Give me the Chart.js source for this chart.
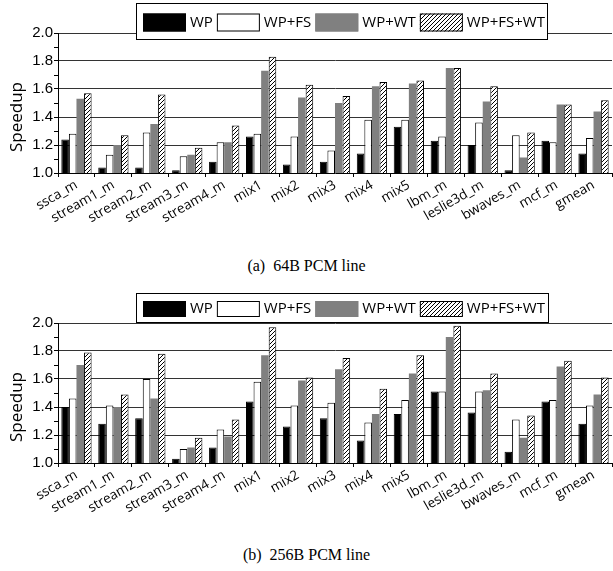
<!DOCTYPE html>
<html>
<head>
<meta charset="utf-8">
<script src="https://cdn.jsdelivr.net/npm/chart.js@4/dist/chart.umd.min.js"></script>
<style>
  html, body { margin: 0; padding: 0; background: #fff; }
  #wrap { position: relative; width: 613px; height: 571px; overflow: hidden; }
  canvas { position: absolute; left: 0; }
  #cA { top: 0; }
  #cB { top: 290px; }
  .cap { position: absolute; left: 0; width: 613px; text-align: center;
         font-family: "Liberation Serif", "Times New Roman", serif; font-size: 16px; color: #000; line-height: 20px; }
  #capA { top: 256px; }
  #capB { top: 545px; }
</style>
</head>
<body>
<div id="wrap">
  <canvas id="cA" width="613" height="250"></canvas>
  <canvas id="cB" width="613" height="250"></canvas>
  <div class="cap" id="capA">(a)&nbsp; 64B PCM line</div>
  <div class="cap" id="capB">(b)&nbsp; 256B PCM line</div>
</div>
<script>
// ---- Data ----
const categories = ['ssca_m','stream1_m','stream2_m','stream3_m','stream4_m','mix1','mix2','mix3','mix4','mix5','lbm_m','leslie3d_m','bwaves_m','mcf_m','gmean'];
const seriesNames = ['WP','WP+FS','WP+WT','WP+FS+WT'];
const yAxisTitle = 'Speedup';
const captions = ['(a) 64B PCM line', '(b) 256B PCM line'];

// (a) 64B PCM line
const a_WP     = [1.24,1.04,1.04,1.02,1.08,1.26,1.06,1.08,1.14,1.33,1.23,1.20,1.02,1.23,1.14];
const a_WPFS   = [1.28,1.13,1.29,1.12,1.22,1.28,1.26,1.16,1.38,1.38,1.26,1.36,1.27,1.22,1.25];
const a_WPWT   = [1.53,1.20,1.35,1.13,1.22,1.73,1.54,1.50,1.62,1.64,1.75,1.51,1.11,1.49,1.44];
const a_WPFSWT = [1.57,1.27,1.56,1.18,1.34,1.83,1.63,1.55,1.65,1.66,1.75,1.62,1.29,1.49,1.52];

// (b) 256B PCM line
const b_WP     = [1.40,1.28,1.32,1.03,1.11,1.44,1.26,1.32,1.16,1.35,1.51,1.36,1.08,1.44,1.28];
const b_WPFS   = [1.46,1.41,1.60,1.10,1.24,1.58,1.41,1.43,1.29,1.45,1.51,1.51,1.31,1.45,1.41];
const b_WPWT   = [1.70,1.40,1.46,1.11,1.19,1.77,1.59,1.67,1.35,1.64,1.90,1.52,1.18,1.69,1.49];
const b_WPFSWT = [1.79,1.49,1.78,1.18,1.31,1.97,1.61,1.75,1.53,1.77,1.98,1.64,1.34,1.73,1.61];

const yMin = 1.0, yMax = 2.0, yMajorStep = 0.2, yMinorStep = 0.1;

// ---- Styles ----
function makeHatch() {
  const c = document.createElement('canvas');
  c.width = 4; c.height = 4;
  const g = c.getContext('2d');
  g.fillStyle = '#fff'; g.fillRect(0,0,4,4);
  g.strokeStyle = '#000'; g.lineWidth = 1;
  g.beginPath();
  g.moveTo(0,4); g.lineTo(4,0);
  g.moveTo(-1,1); g.lineTo(1,-1);
  g.moveTo(3,5); g.lineTo(5,3);
  g.stroke();
  return g.createPattern(c, 'repeat');
}
const hatch = makeHatch();
const GRAY = '#808080';
const fills   = ['#000000', '#ffffff', GRAY, hatch];
const borders = ['#000000', '#000000', GRAY, '#000000'];

const legendPlugin = {
  id: 'customLegend',
  afterDraw(chart, args, opts) {
    const ctx = chart.ctx;
    const b = opts.box;
    ctx.save();
    ctx.fillStyle = '#fff';
    ctx.fillRect(b.x, b.y, b.w, b.h);
    ctx.strokeStyle = '#000'; ctx.lineWidth = 1;
    ctx.strokeRect(b.x + 0.5, b.y + 0.5, b.w - 1, b.h - 1);
    ctx.font = '15px "Open Sans"';
    ctx.textBaseline = 'middle';
    let x = b.x + 7;
    const sh = opts.swH, sw = 43;
    const sy = b.y + (b.h - sh) / 2 + 1;
    chart.data.datasets.forEach((ds) => {
      ctx.fillStyle = ds.backgroundColor;
      ctx.fillRect(x, sy, sw, sh);
      ctx.strokeStyle = ds.borderColor === GRAY ? GRAY : '#000';
      ctx.strokeRect(x + 0.5, sy + 0.5, sw - 1, sh - 1);
      x += sw + 4;
      ctx.fillStyle = '#000';
      ctx.fillText(ds.label, x, sy + sh / 2);
      x += ctx.measureText(ds.label).width + 4;
    });
    ctx.translate(17, 117);
    ctx.rotate(-Math.PI / 2);
    ctx.textAlign = 'center';
    ctx.font = '17px "Open Sans"';
    ctx.fillText(yAxisTitle, 0, 0);
    ctx.restore();
  }
};

function isMajor(v) {
  const k = Math.round((v - yMin) / yMinorStep);
  return k % 2 === 0;
}

function makeChart(id, series, box, swH) {
  const datasets = seriesNames.map((name, i) => ({
    label: name,
    data: series[i],
    backgroundColor: fills[i],
    borderColor: borders[i],
    borderWidth: i === 2 ? 0 : 1,
    categoryPercentage: 0.82,
    barPercentage: 1.0
  }));
  return new Chart(document.getElementById(id), {
    type: 'bar',
    data: { labels: categories, datasets },
    plugins: [legendPlugin],
    options: {
      responsive: false,
      animation: false,
      devicePixelRatio: 1,
      layout: { padding: { top: 33, right: 1, left: 0, bottom: 0 } },
      plugins: {
        legend: { display: false },
        tooltip: { enabled: false },
        customLegend: { box, swH }
      },
      scales: {
        x: {
          afterFit(s) { s.height = 77; },
          grid: { offset: true, drawOnChartArea: false, drawTicks: true, tickLength: 4, color: '#000', tickColor: '#000' },
          border: { display: true, color: '#000', width: 1 },
          ticks: {
            color: '#000', font: { family: 'Open Sans', size: 13.5 },
            minRotation: 30, maxRotation: 30, autoSkip: false, padding: 0
          }
        },
        y: {
          min: yMin, max: yMax,
          afterFit(s) { s.width = 58; },
          afterBuildTicks(s) {
            const t = [];
            for (let k = 0; k <= Math.round((yMax - yMin) / yMinorStep); k++) t.push({ value: +(yMin + k * yMinorStep).toFixed(1) });
            s.ticks = t;
          },
          grid: {
            drawTicks: true, tickLength: 4,
            color: (c) => (c.tick && isMajor(c.tick.value) && c.tick.value > yMin) ? '#333' : 'rgba(0,0,0,0)',
            tickColor: '#000', lineWidth: 1
          },
          border: { display: true, color: '#000', width: 1 },
          ticks: {
            color: '#000', padding: 1, autoSkip: false,
            font: { family: 'Liberation Sans', size: 15 },
            callback: (v) => isMajor(v) ? Number(v).toFixed(1) : ''
          }
        }
      }
    }
  });
}

makeChart('cA', [a_WP, a_WPFS, a_WPWT, a_WPFSWT], { x: 136, y: 3, w: 412, h: 37 }, 18);
makeChart('cB', [b_WP, b_WPFS, b_WPWT, b_WPFSWT], { x: 136, y: 3, w: 413, h: 30 }, 16);
</script>
</body>
</html>
